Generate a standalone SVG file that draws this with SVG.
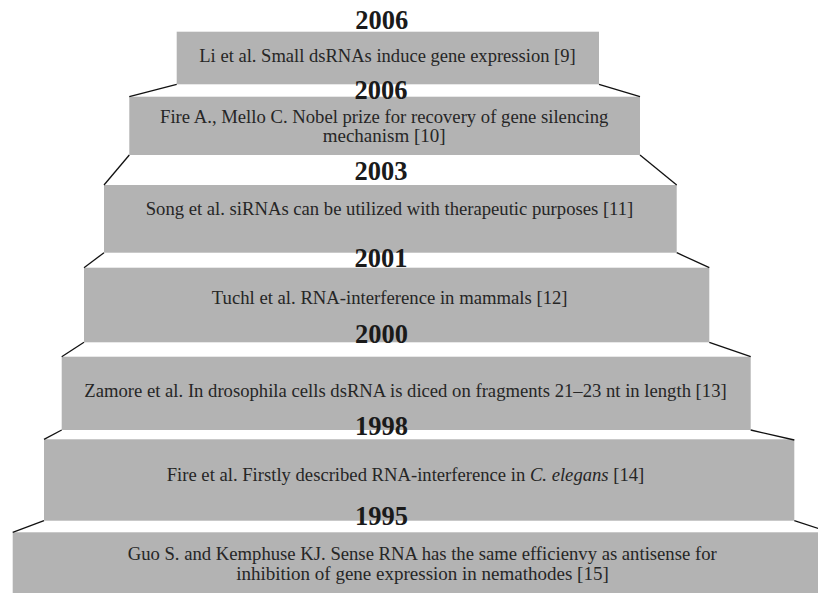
<svg xmlns="http://www.w3.org/2000/svg" width="818" height="593" viewBox="0 0 818 593">
<style>
.box{fill:#b3b3b3}
.yr{font-family:"Liberation Serif","Times New Roman",serif;font-weight:bold;font-size:26.5px;fill:#1a1a1a;text-anchor:middle}
.tx{font-family:"Liberation Serif","Times New Roman",serif;font-size:19px;fill:#262626;text-anchor:middle}
.ln{stroke:#111;stroke-width:1.3;fill:none}
</style>
<rect width="818" height="593" fill="#fff"/>
<g id="n1">
<rect class="box" x="176.7" y="31.7" width="422.3" height="52.6"/>
<text class="tx" x="387.5" y="61.7" textLength="376.4" lengthAdjust="spacingAndGlyphs">Li et al. Small dsRNAs induce gene expression [9]</text>
</g>
<g id="n2">
<rect class="box" x="129.3" y="96.7" width="510.7" height="58.3"/>
<text class="tx" x="384.2" y="123" font-size="18.5" textLength="448.3" lengthAdjust="spacingAndGlyphs">Fire A., Mello C. Nobel prize for recovery of gene silencing</text>
<text class="tx" x="384.2" y="142" font-size="18.5">mechanism [10]</text>
</g>
<g id="n3">
<rect class="box" x="104" y="185" width="572.7" height="67.7"/>
<text class="tx" x="389.5" y="215" textLength="487.6" lengthAdjust="spacingAndGlyphs">Song et al. siRNAs can be utilized with therapeutic purposes [11]</text>
</g>
<g id="n4">
<rect class="box" x="84" y="267.7" width="625.3" height="74.6"/>
<text class="tx" x="389.7" y="304" textLength="355.8" lengthAdjust="spacingAndGlyphs">Tuchl et al. RNA-interference in mammals [12]</text>
</g>
<g id="n5">
<rect class="box" x="61.7" y="356.7" width="689" height="73.3"/>
<text class="tx" x="405.5" y="396.7" textLength="642.4" lengthAdjust="spacingAndGlyphs">Zamore et al. In drosophila cells dsRNA is diced on fragments 21–23 nt in length [13]</text>
</g>
<g id="n6">
<rect class="box" x="44" y="439.3" width="750.3" height="81.4"/>
<text class="tx" x="405.5" y="480.7" textLength="477.6" lengthAdjust="spacingAndGlyphs">Fire et al. Firstly described RNA-interference in <tspan font-style="italic">C. elegans</tspan> [14]</text>
</g>
<g id="n7">
<rect class="box" x="12.7" y="532.3" width="820" height="62"/>
<text class="tx" x="422.2" y="560" textLength="589" lengthAdjust="spacingAndGlyphs">Guo S. and Kemphuse KJ. Sense RNA has the same efficienvy as antisense for</text>
<text class="tx" x="422.5" y="580">inhibition of gene expression in nemathodes [15]</text>
</g>
<g id="years">
<text class="yr" x="381.7" y="28.7">2006</text>
<text class="yr" x="381" y="99">2006</text>
<text class="yr" x="381" y="180">2003</text>
<text class="yr" x="381" y="267.3">2001</text>
<text class="yr" x="381.5" y="343.3">2000</text>
<text class="yr" x="381.5" y="435">1998</text>
<text class="yr" x="381.5" y="525">1995</text>
</g>
<g id="connectors">
<line class="ln" x1="176.7" y1="84.3" x2="129.3" y2="96.7"/>
<line class="ln" x1="599" y1="84.3" x2="640" y2="96.7"/>
<line class="ln" x1="129.3" y1="155" x2="104" y2="185"/>
<line class="ln" x1="640" y1="155" x2="676.7" y2="185"/>
<line class="ln" x1="104" y1="252.7" x2="84" y2="267.7"/>
<line class="ln" x1="676.7" y1="252.7" x2="709.3" y2="267.7"/>
<line class="ln" x1="84" y1="342.3" x2="61.7" y2="356.7"/>
<line class="ln" x1="709.3" y1="342.3" x2="750.7" y2="356.7"/>
<line class="ln" x1="61.7" y1="430" x2="44" y2="439.3"/>
<line class="ln" x1="750.7" y1="430" x2="794.3" y2="440"/>
<line class="ln" x1="44" y1="520.7" x2="12.7" y2="532.3"/>
<line class="ln" x1="794.3" y1="520.7" x2="830" y2="532.3"/>
</g>
</svg>
